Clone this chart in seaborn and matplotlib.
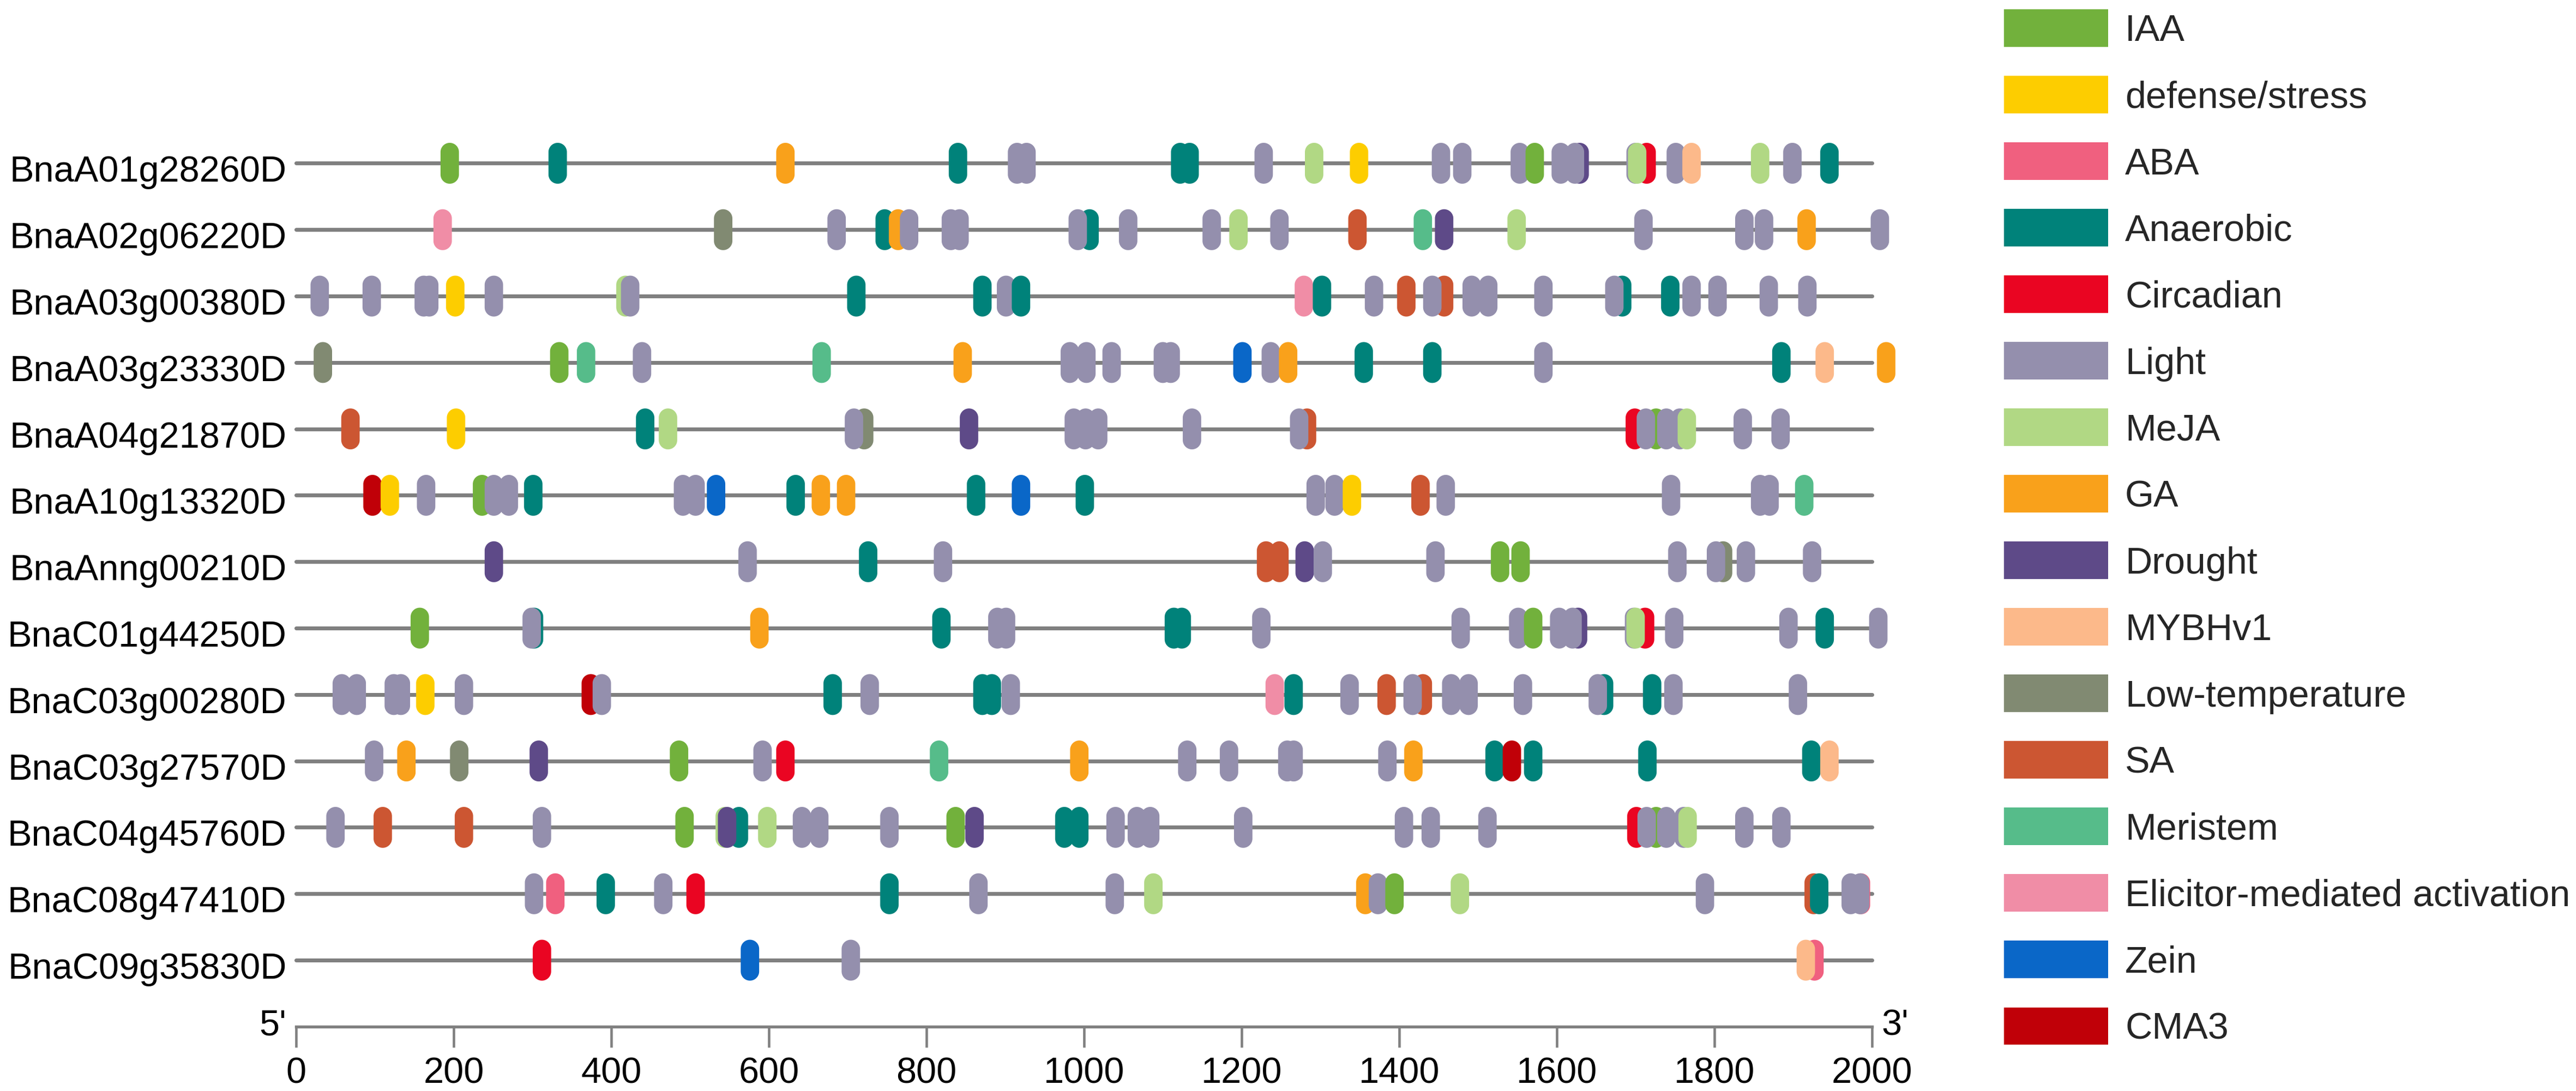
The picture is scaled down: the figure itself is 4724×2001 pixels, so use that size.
import numpy as np
import pandas as pd
import matplotlib
matplotlib.use("Agg")
import matplotlib.pyplot as plt
from matplotlib.path import Path
from matplotlib.patches import Patch
from matplotlib import transforms
import seaborn as sns

# ---------------- data ----------------
genes = ["BnaA01g28260D", "BnaA02g06220D", "BnaA03g00380D", "BnaA03g23330D",
         "BnaA04g21870D", "BnaA10g13320D", "BnaAnng00210D", "BnaC01g44250D",
         "BnaC03g00280D", "BnaC03g27570D", "BnaC04g45760D", "BnaC08g47410D",
         "BnaC09g35830D"]
gene_length = [2000, 2000, 2000, 2000, 2000, 2000, 2000, 2000, 2000, 2000, 2000, 2000, 2000]

categories = ["IAA", "defense/stress", "ABA", "Anaerobic", "Circadian", "Light", "MeJA",
              "GA", "Drought", "MYBHv1", "Low-temperature", "SA", "Meristem",
              "Elicitor-mediated activation", "Zein", "CMA3"]
category_codes = ["IAA", "DEF", "ABA", "ANA", "CIR", "LT", "MJ", "GA", "DR", "MYB",
                  "LTR", "SA", "MER", "ELI", "ZEIN", "CMA"]
colors = ["#72B13C", "#FDCD00", "#F0607F", "#00827A", "#EA0522", "#948FAD", "#B1D884",
          "#F9A11B", "#5E4A88", "#FCB98A", "#818A72", "#CC5632", "#56BC8A", "#F08DA6",
          "#0A67C8", "#C00008"]

# element positions (bp) and element types per gene, listed in drawing order
A01_pos = [195, 332, 621, 840, 915, 927, 1122, 1134, 1228, 1292, 1349, 1453, 1480, 1553,
           1572, 1605, 1629, 1623, 1700, 1714, 1702, 1751, 1771, 1858, 1899, 1946]
A01_cre = ["IAA", "ANA", "GA", "ANA", "LT", "LT", "ANA", "ANA", "LT", "MJ", "DEF", "LT", "LT", "LT",
           "IAA", "LT", "DR", "LT", "LT", "CIR", "MJ", "LT", "MYB", "MJ", "LT", "ANA"]

A02_pos = [186, 542, 686, 747, 764, 778, 831, 842, 1007, 992, 1056, 1162, 1196, 1248, 1347,
           1430, 1457, 1549, 1710, 1838, 1863, 1917, 2010]
A02_cre = ["ELI", "LTR", "LT", "ANA", "GA", "LT", "LT", "LT", "ANA", "LT", "LT", "LT", "MJ", "LT", "SA",
           "MER", "DR", "MJ", "LT", "LT", "LT", "GA", "LT"]

A03a_pos = [30, 96, 162, 169, 202, 251, 418, 424, 711, 871, 901, 920, 1279, 1302, 1368, 1409,
            1457, 1442, 1492, 1513, 1583, 1683, 1673, 1744, 1771, 1804, 1869, 1918]
A03a_cre = ["LT", "LT", "LT", "LT", "DEF", "LT", "MJ", "LT", "ANA", "ANA", "LT", "ANA", "ELI", "ANA", "LT", "SA",
            "SA", "LT", "LT", "LT", "LT", "ANA", "LT", "ANA", "LT", "LT", "LT", "LT"]

A03b_pos = [34, 334, 368, 439, 667, 846, 982, 1003, 1035, 1100, 1110, 1201, 1237, 1259, 1355,
            1442, 1583, 1885, 1940, 2018]
A03b_cre = ["LTR", "IAA", "MER", "LT", "MER", "GA", "LT", "LT", "LT", "LT", "LT", "ZEIN", "LT", "GA", "ANA",
            "ANA", "LT", "ANA", "MYB", "GA"]

A04_pos = [69, 203, 443, 472, 721, 708, 854, 987, 1002, 1018, 1137, 1283, 1273, 1699, 1726,
           1713, 1739, 1756, 1765, 1836, 1884]
A04_cre = ["SA", "DEF", "ANA", "MJ", "LTR", "LT", "DR", "LT", "LT", "LT", "LT", "SA", "LT", "CIR", "IAA",
           "LT", "LT", "LT", "MJ", "LT", "LT"]

A10_pos = [97, 119, 165, 236, 251, 270, 301, 491, 507, 533, 634, 666, 698, 863, 920, 1001,
           1294, 1318, 1340, 1427, 1459, 1745, 1858, 1870, 1914]
A10_cre = ["CMA", "DEF", "LT", "IAA", "LT", "LT", "ANA", "LT", "LT", "ZEIN", "ANA", "GA", "GA", "ANA", "ZEIN", "ANA",
           "LT", "LT", "DEF", "SA", "LT", "LT", "LT", "LT", "MER"]

Anng_pos = [251, 573, 726, 821, 1231, 1248, 1280, 1303, 1446, 1528, 1554, 1753, 1811, 1802,
            1840, 1924]
Anng_cre = ["DR", "LT", "ANA", "LT", "SA", "SA", "DR", "LT", "LT", "IAA", "IAA", "LT", "LTR", "LT",
            "LT", "LT"]

C01_pos = [157, 302, 299, 588, 819, 890, 901, 1114, 1124, 1225, 1478, 1551, 1570, 1603, 1627,
           1620, 1698, 1712, 1700, 1749, 1894, 1940, 2008]
C01_cre = ["IAA", "ANA", "LT", "GA", "ANA", "LT", "LT", "ANA", "ANA", "LT", "LT", "LT", "IAA", "LT", "DR",
           "LT", "LT", "CIR", "MJ", "LT", "LT", "ANA", "LT"]

C03a_pos = [58, 77, 124, 133, 164, 213, 374, 388, 681, 728, 871, 883, 907, 1242, 1266, 1337,
            1384, 1430, 1417, 1466, 1488, 1557, 1660, 1652, 1721, 1748, 1906]
C03a_cre = ["LT", "LT", "LT", "LT", "DEF", "LT", "CMA", "LT", "ANA", "LT", "ANA", "ANA", "LT", "ELI", "ANA", "LT",
            "SA", "SA", "LT", "LT", "LT", "LT", "ANA", "LT", "ANA", "LT", "LT"]

C03b_pos = [99, 140, 207, 308, 486, 592, 621, 816, 994, 1131, 1184, 1258, 1266, 1385, 1418,
            1521, 1543, 1570, 1715, 1923, 1946]
C03b_cre = ["LT", "GA", "LTR", "DR", "IAA", "LT", "CIR", "MER", "GA", "LT", "LT", "LT", "LT", "LT", "GA",
            "ANA", "CMA", "ANA", "ANA", "ANA", "MYB"]

C04_pos = [50, 110, 213, 312, 493, 544, 562, 547, 598, 642, 664, 753, 837, 861, 975, 994,
           1040, 1067, 1084, 1202, 1406, 1440, 1512, 1701, 1726, 1714, 1739, 1761, 1766, 1838, 1885]
C04_cre = ["LT", "SA", "SA", "LT", "IAA", "MJ", "ANA", "DR", "MJ", "LT", "LT", "LT", "IAA", "DR", "ANA", "ANA",
           "LT", "LT", "LT", "LT", "LT", "LT", "LT", "CIR", "IAA", "LT", "LT", "LT", "MJ", "LT", "LT"]

C08_pos = [302, 329, 393, 466, 507, 753, 866, 1039, 1088, 1357, 1373, 1394, 1477, 1788, 1926,
           1933, 1986, 1973, 1985]
C08_cre = ["LT", "ABA", "ANA", "LT", "CIR", "ANA", "LT", "LT", "MJ", "GA", "LT", "IAA", "MJ", "LT", "SA",
           "ANA", "ABA", "LT", "LT"]

C09_pos = [312, 576, 704, 1927, 1916]
C09_cre = ["CIR", "ZEIN", "LT", "ABA", "MYB"]

axis_ticks = [0, 200, 400, 600, 800, 1000, 1200, 1400, 1600, 1800, 2000]

# ---------------- build table ----------------
code_to_name = dict(zip(category_codes, categories))
palette = dict(zip(categories, colors))
all_pos = [A01_pos, A02_pos, A03a_pos, A03b_pos, A04_pos, A10_pos, Anng_pos, C01_pos,
           C03a_pos, C03b_pos, C04_pos, C08_pos, C09_pos]
all_cre = [A01_cre, A02_cre, A03a_cre, A03b_cre, A04_cre, A10_cre, Anng_cre, C01_cre,
           C03a_cre, C03b_cre, C04_cre, C08_cre, C09_cre]
records = []
for row, (pos, cre) in enumerate(zip(all_pos, all_cre), start=1):
    for p, c in zip(pos, cre):
        records.append((row, p, code_to_name[c]))
df = pd.DataFrame(records, columns=["row", "position", "element"])
rows = np.arange(1, len(genes) + 1)

# capsule marker
r = 0.225
t1 = np.linspace(0, np.pi, 40)
t2 = np.linspace(np.pi, 2 * np.pi, 40)
top = np.column_stack([r * np.cos(t1), 0.5 - r + r * np.sin(t1)])
bot = np.column_stack([r * np.cos(t2), -0.5 + r + r * np.sin(t2)])
verts = np.vstack([top, bot, top[:1]])
pcodes = [Path.MOVETO] + [Path.LINETO] * (len(verts) - 2) + [Path.CLOSEPOLY]
capsule = Path(verts, pcodes)

# ---------------- plot ----------------
sns.set_theme(style="white")
plt.rcParams["font.family"] = ["Liberation Sans", "DejaVu Sans"]

fig = plt.figure(figsize=(4724 / 300, 2002 / 300), dpi=300)
ax = fig.add_axes([0.11127, 0.03467, 0.62767, 0.85175])

LINE_GREY = "#808080"
ax.hlines(rows, 0, gene_length, colors=LINE_GREY, linewidth=1.7, capstyle="round", zorder=2)

sns.scatterplot(data=df, x="position", y="row", hue="element", palette=palette,
                marker=capsule, s=324, linewidth=0, edgecolor="none", legend=False,
                ax=ax, zorder=3, clip_on=False)

ax.set_xlim(-12, 2040)
ax.set_ylim(14.4, 0.4)
ax.set_xlabel("")
ax.set_ylabel("")

for side in ["top", "right", "left"]:
    ax.spines[side].set_visible(False)
ax.spines["bottom"].set_position(("data", 14))
ax.spines["bottom"].set_bounds(0, 2000)
ax.spines["bottom"].set_color(LINE_GREY)
ax.spines["bottom"].set_linewidth(1.3)

ax.set_xticks(axis_ticks)
ax.set_xticklabels([str(t) for t in axis_ticks])
ax.tick_params(axis="x", direction="out", length=9.1, width=1.1, color=LINE_GREY,
               pad=4, labelsize=16, labelcolor="black", bottom=True)
ax.set_yticks(rows)
ax.set_yticklabels(genes)
ax.tick_params(axis="y", length=0, pad=0, labelsize=16, labelcolor="black")
offset = transforms.ScaledTranslation(0, -9 / 300, fig.dpi_scale_trans)
for lab in ax.get_yticklabels():
    lab.set_transform(lab.get_transform() + offset)

ax.text(-12.5, 14.12, "5'", ha="right", va="baseline", fontsize=16, color="black")
ax.text(2012, 14.12, "3'", ha="left", va="baseline", fontsize=16, color="black")

handles = [Patch(facecolor=c, edgecolor="none") for c in colors]
fig.legend(handles, categories, loc="upper left",
           bbox_to_anchor=(3675 / 4724, 1 - 18 / 2002), bbox_transform=fig.transFigure,
           frameon=False, borderpad=0, borderaxespad=0, handlelength=2.8, handleheight=1.17,
           labelspacing=0.74, handletextpad=0.45, fontsize=16.4)

fig.savefig("out.png", dpi=300, facecolor="white")
